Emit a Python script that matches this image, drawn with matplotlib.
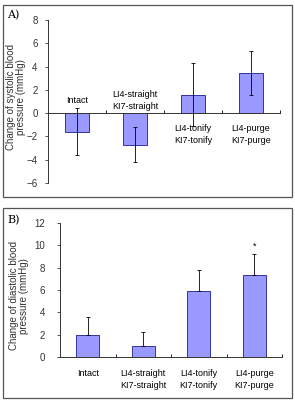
import numpy as np
import matplotlib.pyplot as plt
from matplotlib.patches import Rectangle

groups = ['Intact', 'LI4-straight\nKI7-straight', 'LI4-tonify\nKI7-tonify', 'LI4-purge\nKI7-purge']
sys_mean = [-1.6, -2.7, 1.6, 3.45]
sys_err = [2.0, 1.5, 2.7, 1.9]
dia_mean = [1.95, 1.0, 5.95, 7.3]
dia_err = [1.65, 1.2, 1.85, 1.9]
dia_star = ['', '', '', '*']

bar_face = '#9999ff'
bar_edge = '#333399'
font = ['Liberation Sans Narrow', 'Liberation Sans', 'DejaVu Sans']
plt.rcParams['font.family'] = font
fs = 6.5

fig = plt.figure(figsize=(2.95, 4.0), dpi=100)

# panel frames
for (x0, y0, x1, y1) in [(3, 5, 292, 197), (3, 208, 292, 398)]:
    fig.patches.append(Rectangle((x0 / 295, 1 - y1 / 400), (x1 - x0) / 295, (y1 - y0) / 400,
                                 transform=fig.transFigure, fill=False, edgecolor='#555555', lw=0.9))

x = np.arange(len(groups))


def style_axes(ax, pad):
    for s in ['top', 'right']:
        ax.spines[s].set_visible(False)
    for s in ['left', 'bottom']:
        ax.spines[s].set_linewidth(0.7)
        ax.spines[s].set_color('#333333')
    ax.tick_params(axis='y', labelsize=fs + 0.5, length=2.5, width=0.6, pad=pad, colors='#333333')
    ax.set_xlim(-0.5, len(groups) - 0.5)
    ax.set_xticks(np.arange(len(groups) + 1) - 0.5)
    ax.tick_params(axis='x', direction='in', length=2, width=0.6, labelbottom=False)


# A) systolic
axA = fig.add_axes([48 / 295, 1 - 183 / 400, 232 / 295, 163 / 400])
axA.bar(x, sys_mean, width=0.42, color=bar_face, edgecolor=bar_edge, linewidth=0.7, zorder=2)
axA.errorbar(x, sys_mean, yerr=sys_err, fmt='none', ecolor='black', elinewidth=0.6,
             capsize=1.5, capthick=0.6, zorder=3)
axA.set_ylim(-6, 8)
axA.set_yticks(np.arange(-6, 9, 2))
style_axes(axA, 5)
axA.spines['bottom'].set_position(('data', 0))
for xi, m, g in zip(x, sys_mean, groups):
    ty = 1.1 if m < 0 else -1.85
    axA.text(xi, ty, g, ha='center', va='center', fontsize=fs, linespacing=1.45)
fig.text(16.5 / 295, 1 - 97 / 400, 'Change of systolic blood\npressure (mmHg)', rotation=90,
         ha='center', va='center', fontsize=fs + 0.5, color='#333333', linespacing=1.0)
fig.text(7 / 295, 1 - 15 / 400, 'A)', fontsize=8, family='DejaVu Serif', va='center')

# B) diastolic
axB = fig.add_axes([60 / 295, 1 - 357 / 400, 222 / 295, 134 / 400])
axB.bar(x, dia_mean, width=0.42, color=bar_face, edgecolor=bar_edge, linewidth=0.7, zorder=2)
axB.errorbar(x, dia_mean, yerr=[np.zeros(len(dia_err)), dia_err], fmt='none', ecolor='black',
             elinewidth=0.6, capsize=1.5, capthick=0.6, zorder=3)
axB.set_ylim(0, 12)
axB.set_yticks(np.arange(0, 13, 2))
style_axes(axB, 8)
for xi, m, e, s in zip(x, dia_mean, dia_err, dia_star):
    if s:
        axB.text(xi, m + e + 0.35, s, ha='center', va='bottom', fontsize=fs)
for xi, g in zip(x, groups):
    axB.text(xi, -1.1, g, ha='center', va='top', fontsize=fs, linespacing=1.45)
fig.text(19 / 295, 1 - 296 / 400, 'Change of diastolic blood\npressure (mmHg)', rotation=90,
         ha='center', va='center', fontsize=fs + 0.5, color='#333333', linespacing=1.1)
fig.text(7 / 295, 1 - 220 / 400, 'B)', fontsize=8, family='DejaVu Serif', va='center')

fig.savefig('out.png', dpi=100)
